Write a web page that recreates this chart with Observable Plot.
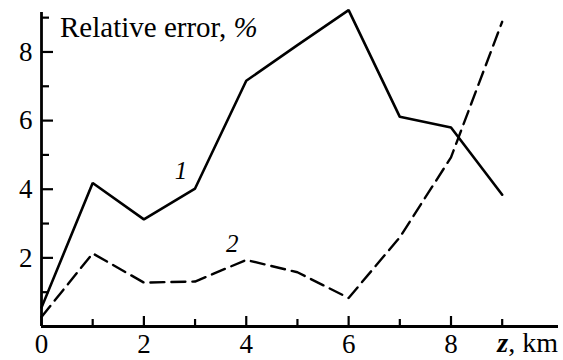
<!DOCTYPE html>
<html>
<head>
<meta charset="utf-8">
<script src="https://cdn.jsdelivr.net/npm/d3@7"></script>
<script src="https://cdn.jsdelivr.net/npm/@observablehq/plot@0.6"></script>
<style>
  html, body { margin: 0; padding: 0; background: #fff; }
  #chart { width: 563px; height: 360px; }
  svg { display: block; }
</style>
</head>
<body>
<div id="chart"></div>
<script>
// ---- data ----
const zKm = [0, 1, 2, 3, 4, 5, 6, 7, 8, 9];
const curve1 = [0.55, 4.18, 3.12, 4.02, 7.16, 8.2, 9.22, 6.11, 5.8, 3.84];
const curve2 = [0.28, 2.13, 1.28, 1.31, 1.94, 1.58, 0.83, 2.6, 4.93, 8.88];
const seriesNames = ["1", "2"];
const xMajorTicks = [0, 2, 4, 6, 8];
const xMinorTicks = [1, 3, 5, 7, 9];
const yMajorTicks = [2, 4, 6, 8];
const yMinorTicks = [1, 3, 5, 7, 9];
const titleText = "Relative error, ";
const titleUnit = "%";
const xLabelVar = "z";
const xLabelUnit = ", km";

const rows1 = zKm.map((z, i) => ({z, v: curve1[i]}));
const rows2 = zKm.map((z, i) => ({z, v: curve2[i]}));

const FONT = "Liberation Serif";

const plot = Plot.plot({
  width: 563,
  height: 360,
  marginLeft: 41,
  marginRight: 5,
  marginTop: 12,
  marginBottom: 34,
  style: {fontFamily: FONT, fontSize: "27px", color: "#000", background: "#fff"},
  x: {domain: [0, 10.1]},
  y: {domain: [0, 9.15]},
  marks: [
    Plot.axisX({ticks: xMinorTicks, tickSize: -7, text: null, label: null, strokeWidth: 2.2}),
    Plot.axisX({ticks: xMajorTicks, tickSize: -10, tickPadding: 17, strokeWidth: 2.2, label: null, fontSize: 27, fontFamily: FONT, tickFormat: d => String(d)}),
    Plot.axisY({ticks: yMinorTicks, tickSize: -8, text: null, label: null, strokeWidth: 2.2}),
    Plot.axisY({ticks: yMajorTicks, tickSize: -12, tickPadding: 21, strokeWidth: 2.2, label: null, fontSize: 27, fontFamily: FONT, tickFormat: d => String(d)}),
    Plot.ruleX([0], {strokeWidth: 2.8}),
    Plot.ruleY([0], {strokeWidth: 2.8}),
    Plot.line(rows1, {x: "z", y: "v", stroke: "#000", strokeWidth: 2.6, strokeLinejoin: "miter"}),
    Plot.line(rows2, {x: "z", y: "v", stroke: "#000", strokeWidth: 2.4, strokeDasharray: "14,7"}),
    Plot.text([rows1[3]], {x: "z", y: "v", text: () => seriesNames[0], dx: -14, dy: -18, fontStyle: "italic", fontSize: 25, fontFamily: FONT}),
    Plot.text([rows2[4]], {x: "z", y: "v", text: () => seriesNames[1], dx: -14, dy: -16, fontStyle: "italic", fontSize: 25, fontFamily: FONT})
  ]
});

const svg = d3.select(plot);
svg.attr("font-family", FONT);
// title
const t = svg.append("text")
  .attr("x", 60).attr("y", 37).attr("text-anchor", "start")
  .attr("font-family", FONT).attr("font-size", 29).attr("fill", "#000");
t.append("tspan").text(titleText);
t.append("tspan").attr("font-style", "italic").text(titleUnit);
// x-axis label
const xl = svg.append("text")
  .attr("x", 558).attr("y", 352).attr("text-anchor", "end")
  .attr("font-family", FONT).attr("font-size", 28).attr("fill", "#000");
xl.append("tspan").attr("font-style", "italic").attr("font-weight", "bold").text(xLabelVar);
xl.append("tspan").text(xLabelUnit);
svg.selectAll("text").attr("font-family", FONT).style("font-family", FONT);

document.getElementById("chart").appendChild(plot);
</script>
</body>
</html>
